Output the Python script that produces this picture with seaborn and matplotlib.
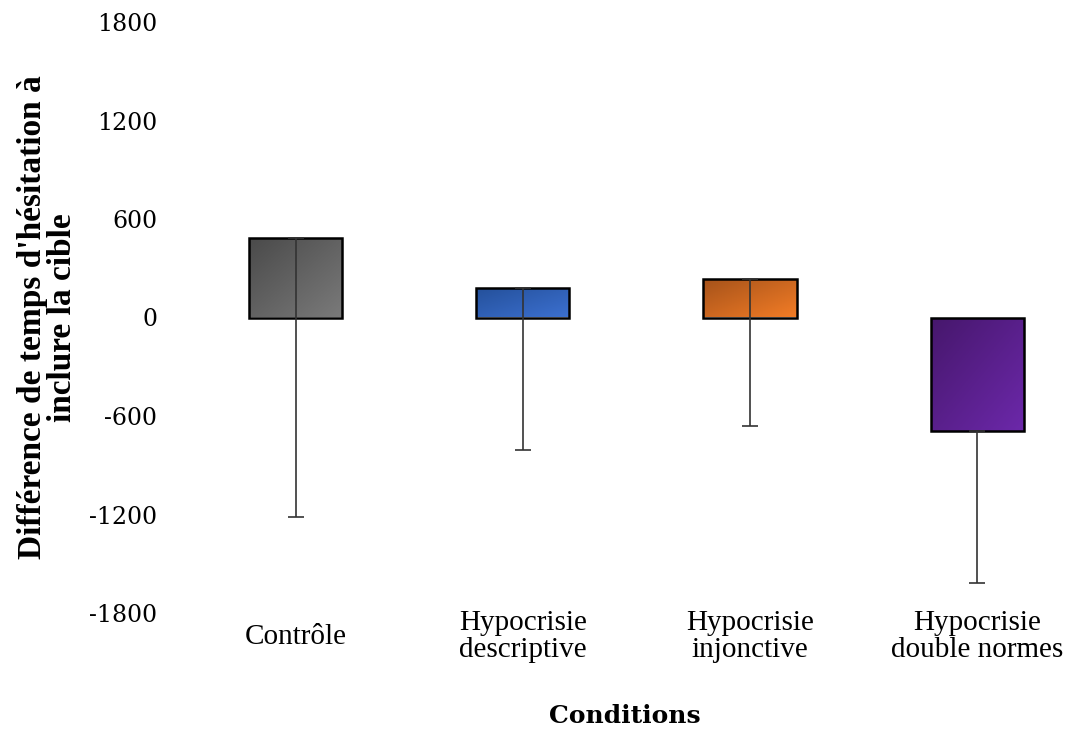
import numpy as np
import pandas as pd
import matplotlib
matplotlib.use("Agg")
import matplotlib.pyplot as plt
from matplotlib.colors import LinearSegmentedColormap
import seaborn as sns

# Données
conditions = ["Contrôle", "Hypocrisie\ndescriptive", "Hypocrisie\ninjonctive",
              "Hypocrisie\ndouble normes"]
moyennes = [487, 182, 237, -693]
erreurs_bas = [1703, 991, 900, 925]   # longueur de la barre d'erreur vers le bas
couleurs = [("#4a4a4a", "#7a7a7a"), ("#24509a", "#3c70d0"),
            ("#a5521a", "#f27c26"), ("#46176c", "#6c28aa")]
yticks = [-1800, -1200, -600, 0, 600, 1200, 1800]

df = pd.DataFrame({"Conditions": conditions, "Diff": moyennes})

sns.set_style("white")
fig = plt.figure(figsize=(10.75, 7.29), dpi=100)
ax = fig.add_axes([182 / 1075, (729 - 613) / 729, 886 / 1075, 591 / 729])

sns.barplot(data=df, x="Conditions", y="Diff", ax=ax, width=0.41,
            edgecolor="black", linewidth=1.8, errorbar=None, zorder=2)

# dégradé dans chaque barre
grad = np.linspace(0, 1, 64)
grad = (grad[None, :] + grad[:, None]) / 2
for patch, (c1, c2) in zip(ax.patches, couleurs):
    x0, y0 = patch.get_x(), patch.get_y()
    w, h = patch.get_width(), patch.get_height()
    cmap = LinearSegmentedColormap.from_list("g", [c1, c2])
    ymin, ymax = min(y0, y0 + h), max(y0, y0 + h)
    im = ax.imshow(grad, cmap=cmap, extent=[x0, x0 + w, ymin, ymax],
                   origin="upper", aspect="auto", zorder=2)
    im.set_clip_path(patch)
    patch.set_facecolor("none")
    patch.set_zorder(3)

ax.errorbar(range(len(conditions)), moyennes, yerr=[erreurs_bas, [0] * 4],
            fmt="none", ecolor="#333333", elinewidth=1.2, capsize=6,
            capthick=1.2, zorder=4)

ax.set_xlim(-0.5, 3.4)
ax.set_ylim(-1800, 1800)
ax.set_yticks(yticks)
ax.set_yticklabels([str(t) for t in yticks], fontfamily="DejaVu Serif",
                   fontsize=17, color="black")
ax.tick_params(axis="y", length=0, pad=18)
ax.tick_params(axis="x", length=0, pad=-2)
for lab in ax.get_xticklabels():
    lab.set_fontfamily("Liberation Serif")
    lab.set_fontsize(21)
    lab.set_color("black")
    lab.set_linespacing(1.05)
    lab.set_verticalalignment("center")
    lab.set_y(-0.045)
sns.despine(ax=ax, left=True, bottom=True)

ax.set_xlabel("Conditions", fontfamily="DejaVu Serif", fontweight="bold",
              fontsize=18, color="black", va="center")
ax.xaxis.set_label_coords(0.5, -0.174)
ax.set_ylabel("Différence de temps d'hésitation à\ninclure la cible",
              fontfamily="Liberation Serif", fontweight="bold", fontsize=24,
              color="black", linespacing=0.95, va="center")
ax.yaxis.set_label_coords(-0.152, 0.5)

fig.savefig("out.png", dpi=100)
